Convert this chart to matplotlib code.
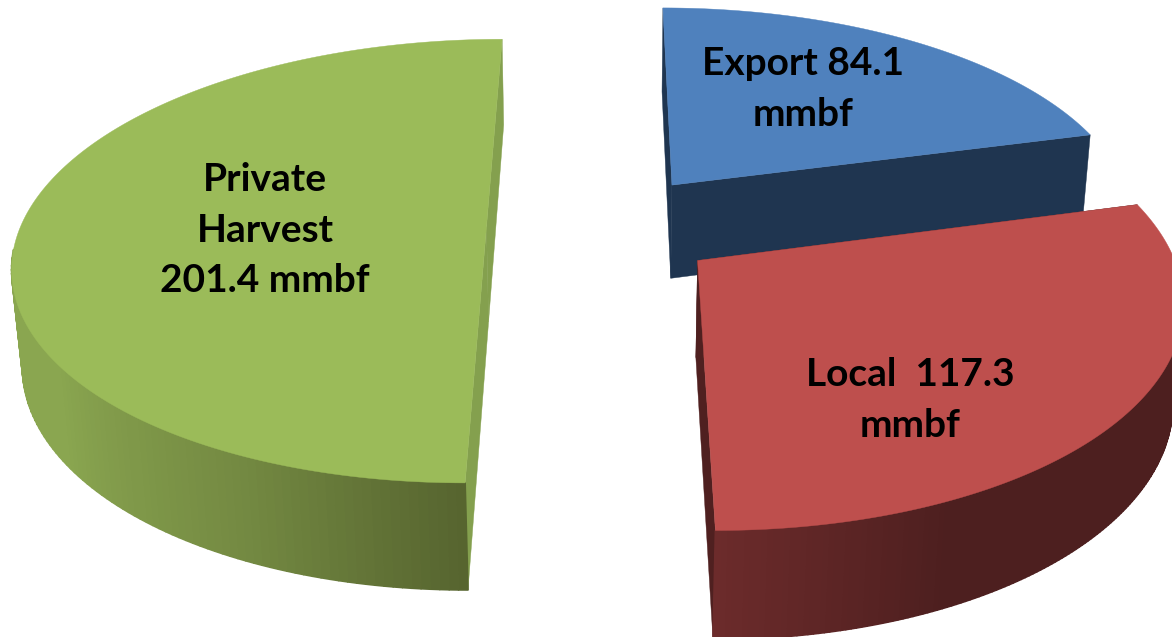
import numpy as np
import matplotlib
matplotlib.use("Agg")
import matplotlib.pyplot as plt
from matplotlib.collections import PolyCollection
from matplotlib.patches import Polygon

plt.rcParams['font.family'] = ['Lato', 'DejaVu Sans']

# Harvest volumes in mmbf, clockwise from twelve o'clock
names = ['Export', 'Local', 'Private Harvest']
volumes = [84.1, 117.3, 201.4]
labels = ['Export 84.1\nmmbf', 'Local  117.3\nmmbf', 'Private\nHarvest\n201.4 mmbf']
label_pos = [(803, 89), (910, 400), (265, 230)]

top_colors = ['#4F81BD', '#BE4F4D', '#9BBB59']
cut_colors = ['#1F3550', '#4F2020', '#84A04E']

# Rim shading: angle in degrees -> colour, per slice
rim_angles = [[0, 360], [155, 180], [180, 205, 235, 360]]
rim_colors = [['#1F3550', '#1F3550'],
              ['#4D1F1F', '#6C2B2B'],
              ['#56642F', '#748A42', '#8AA650', '#8AA650']]

# Camera settings for the perspective view
cx, cy = 603, 226.7
scale_x, scale_y = 466, 216.5
depth = 97
persp_y, persp_z = 0.155, 0.018
explode = 0.25


def project(x, y, z=0.0):
    w = 1 + persp_y * y + persp_z * z
    return np.column_stack([cx + scale_x * x / w, cy + (depth * z - scale_y * y) / w])


def rim_shade(theta, angles, colors):
    rgb = np.array([matplotlib.colors.to_rgb(c) for c in colors])
    return [np.interp(theta, angles, rgb[:, i]) for i in range(3)]


fig = plt.figure(figsize=(11.72, 6.37), dpi=100)
ax = fig.add_axes([0, 0, 1, 1])
ax.set_xlim(0, 1172)
ax.set_ylim(637, 0)
ax.axis('off')

sweeps = 360 * np.array(volumes) / sum(volumes)
starts = np.concatenate([[0], np.cumsum(sweeps)[:-1]])

for i in range(len(volumes)):
    start, sweep = starts[i], sweeps[i]
    mid = np.radians(start + sweep / 2)
    ox, oy = explode * np.sin(mid), explode * np.cos(mid)

    thetas = np.linspace(start, start + sweep, 181)
    rad = np.radians(thetas)
    xs = ox + np.sin(rad)
    ys = oy + np.cos(rad)

    top = project(xs, ys)
    bottom = project(xs, ys, 1.0)
    apex_top = project(np.array([ox]), np.array([oy]))
    apex_bottom = project(np.array([ox]), np.array([oy]), 1.0)

    # Flat cut faces first, then the curved rim, then the top on top of both
    for end in (0, -1):
        face = np.vstack([apex_top, top[end], bottom[end], apex_bottom])
        ax.add_patch(Polygon(face, closed=True, facecolor=cut_colors[i],
                             edgecolor=cut_colors[i], linewidth=0.3))

    # The far part of the rim is hidden behind the top, so leave it out
    front = [j for j in range(len(thetas) - 1) if np.cos(rad[j]) < -0.1 and np.cos(rad[j + 1]) < -0.1]
    quads = [np.vstack([top[j], top[j + 1], bottom[j + 1], bottom[j]]) for j in front]
    shades = [rim_shade((thetas[j] + thetas[j + 1]) / 2, rim_angles[i], rim_colors[i]) for j in front]
    ax.add_collection(PolyCollection(quads, facecolors=shades, edgecolors=shades, linewidths=1.2))

    ax.add_patch(Polygon(np.vstack([apex_top, top]), closed=True, facecolor=top_colors[i],
                         edgecolor=top_colors[i], linewidth=0.3))

for text, (tx, ty) in zip(labels, label_pos):
    ax.text(tx, ty, text, ha='center', va='center', fontsize=28, fontweight='bold',
            color='black', linespacing=1.55)

fig.savefig('out.png', dpi=100)
